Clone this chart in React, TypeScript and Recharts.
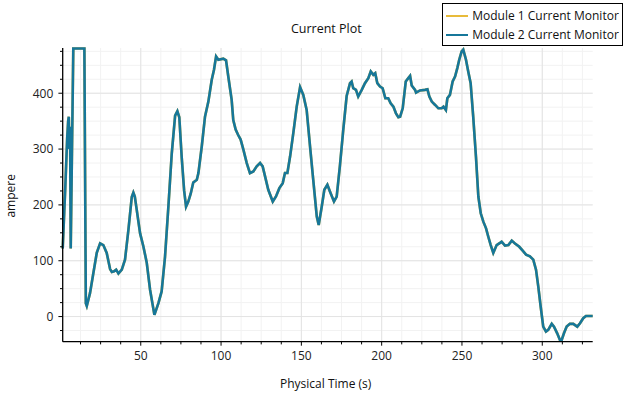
import { LineChart, Line, XAxis, YAxis, CartesianGrid } from "recharts"

const time = [
  1.4, 3, 4.2, 4.8, 5.2, 5.6, 6.0, 6.4, 8.0, 14.9, 15.8, 16.4, 18.4, 20.5, 22.6,
  24.7, 26.7, 28.8, 30.9, 32, 33.4, 34.7, 36.1, 38.2, 40.2, 42.3, 44.4, 45.4,
  46.3, 47.5, 49.6, 51.6, 53.7, 55.8, 58.5, 61, 63, 65.1, 67.2, 69.3, 71.4,
  72.8, 74, 75.5, 77, 78.2, 79.6, 81.1, 82.7, 84.9, 85.9, 88, 90, 92.1, 94.2,
  95.6, 96.9, 98.3, 101.4, 103.1, 104.5, 106.6, 107.6, 109.1, 110.5, 112.2,
  113.9, 116, 118, 120.1, 122.2, 124.3, 125.9, 127.4, 129.4, 132.2, 134.2,
  136.3, 138.4, 139.8, 141.3, 143, 145, 147.1, 149.2, 151.2, 153.3, 155.4,
  157.4, 159.6, 160.8, 162.7, 164.3, 166.2, 167.8, 170.3, 172, 174, 176.1,
  178.2, 180.3, 181.3, 182.3, 184, 185.4, 187.6, 189.6, 191.7, 193.2, 194.8,
  196, 197.3, 199, 200.6, 202.3, 204.1, 205.6, 207.3, 208.9, 210.4, 211.5,
  213.1, 215, 216.6, 217.7, 218.7, 220.8, 221.4, 223.9, 227, 228.5, 229.7,
  231.2, 233.3, 235.3, 237.4, 238.5, 240, 240.9, 242.5, 244.2, 245.7, 247.1,
  248.3, 249.8, 250.8, 252.5, 253.9, 255.4, 257, 258.7, 260.2, 261.7, 263.3,
  265, 266.4, 267.9, 269.5, 271.6, 273.7, 274.7, 276.8, 278.9, 281, 283, 285.7,
  287.8, 289.9, 292.3, 294.4, 296.1, 297.5, 299, 300.6, 302.3, 303.7, 305.9,
  307.3, 309.3, 311, 312.1, 313.5, 315.2, 317.2, 319.3, 321.8, 323.5, 325.5,
  327.2, 331.4,
]

const module2 = [
  122, 230, 320, 350, 358, 300, 340, 122, 480, 480, 24, 19, 42, 78, 114, 131,
  128, 114, 85, 80, 81, 84, 77, 84, 102, 155, 214, 222, 215, 191, 149, 126, 97,
  48, 3, 24, 45, 107, 197, 292, 360, 368, 357, 285, 226, 197, 206, 220, 240, 245,
  257, 305, 358, 385, 424, 442, 466, 460, 462, 459, 430, 388, 352, 335, 326, 317,
  299, 275, 257, 260, 269, 275, 269, 251, 227, 206, 215, 230, 239, 257, 257, 287,
  329, 376, 411, 397, 370, 305, 245, 179, 164, 197, 227, 236, 224, 206, 215, 270,
  335, 395, 418, 421, 409, 406, 394, 406, 418, 427, 439, 433, 436, 418, 412, 409,
  391, 391, 382, 376, 364, 357, 358, 373, 421, 427, 431, 414, 406, 401, 405, 406,
  407, 394, 385, 379, 373, 373, 376, 370, 391, 397, 421, 430, 445, 460, 475, 478,
  460, 439, 418, 358, 287, 215, 185, 170, 158, 143, 128, 114, 128, 132, 134, 127,
  128, 136, 131, 125, 118, 111, 108, 102, 84, 54, 18, -18, -27, -24, -13, -18,
  -30, -42, -42, -30, -18, -13, -13, -18, -12, -3, 1, 1,
]

// module 1 lies exactly underneath module 2 in the plot
const module1 = module2

const xTicks = [
  12.5, 25, 37.5, 50, 62.5, 75, 87.5, 100, 112.5, 125, 137.5, 150, 162.5, 175,
  187.5, 200, 212.5, 225, 237.5, 250, 262.5, 275, 287.5, 300, 312.5, 325,
]
const xMajor = [50, 100, 150, 200, 250, 300]
const yTicks = [
  -25, 0, 25, 50, 75, 100, 125, 150, 175, 200, 225, 250, 275, 300, 325, 350, 375,
  400, 425, 450, 475,
]
const yMajor = [0, 100, 200, 300, 400]

const series = [
  { key: "m1", name: "Module 1 Current Monitor", color: "#e8bb3a" },
  { key: "m2", name: "Module 2 Current Monitor", color: "#16779a" },
]

const data = time.map((t, i) => ({ t, m1: module1[i], m2: module2[i] }))

const FONT = "'Open Sans', sans-serif"

function YTick({ x, y, payload }: any) {
  const major = payload.value % 100 === 0
  return (
    <g>
      <line x1={x - (major ? 4.3 : 2.7)} x2={x} y1={y} y2={y} stroke="#000" strokeWidth={1} />
      {major && (
        <text x={x - 9.4} y={y + 4.3} textAnchor="end" fontSize={12} fontFamily={FONT} fill="#222">
          {payload.value}
        </text>
      )}
    </g>
  )
}

function XTick({ x, y, payload }: any) {
  const major = payload.value % 50 === 0
  return (
    <g>
      <line x1={x} x2={x} y1={y} y2={y + (major ? 4 : 2.7)} stroke="#000" strokeWidth={1} />
      {major && (
        <text x={x} y={y + 17.8} textAnchor="middle" fontSize={12} fontFamily={FONT} fill="#222">
          {payload.value}
        </text>
      )}
    </g>
  )
}

function LegendBox() {
  return (
    <div
      style={{
        position: "absolute",
        left: 441.7,
        top: 3.3,
        width: 181.5,
        height: 42.4,
        boxSizing: "border-box",
        border: "1px solid #000",
        background: "#fff",
        fontFamily: FONT,
        fontSize: 12,
        color: "#111",
        paddingTop: 2,
      }}
    >
      {series.map((s) => (
        <div key={s.key} style={{ display: "flex", alignItems: "center", height: 19 }}>
          <span style={{ display: "inline-block", width: 22, height: 2.5, background: s.color, marginLeft: 3, marginRight: 4.5 }} />
          <span>{s.name}</span>
        </div>
      ))}
    </div>
  )
}

export default function App() {
  return (
    <div style={{ position: "absolute", left: 0, top: 0, width: 624, height: 396, background: "#fff" }}>
      <LineChart width={624} height={396} data={data} margin={{ top: 48, right: 31.3, bottom: 24.3, left: 0 }}>
        <CartesianGrid stroke="#f2f2f2" strokeWidth={1} verticalValues={xTicks} horizontalValues={yTicks} />
        <CartesianGrid stroke="#e3e3e3" strokeWidth={1} verticalValues={xMajor} horizontalValues={yMajor} />
        <XAxis
          dataKey="t"
          type="number"
          domain={[1.4, 331.4]}
          ticks={xTicks}
          interval={0}
          height={30}
          tickSize={0}
          tickMargin={0}
          tick={XTick}
          axisLine={{ stroke: "#000", strokeWidth: 1.3 }}
        />
        <YAxis
          type="number"
          domain={[-45, 481]}
          ticks={yTicks}
          interval={0}
          width={62.7}
          tickSize={0}
          tickMargin={0}
          tick={YTick}
          axisLine={{ stroke: "#000", strokeWidth: 1.3 }}
        />
        {series.map((s) => (
          <Line
            key={s.key}
            name={s.name}
            dataKey={s.key}
            stroke={s.color}
            strokeWidth={2.6}
            dot={false}
            isAnimationActive={false}
          />
        ))}
      </LineChart>
      <LegendBox />
      <svg
        width={624}
        height={396}
        style={{ position: "absolute", left: 0, top: 0, pointerEvents: "none" }}
        fontFamily={FONT}
        fontSize={12}
        fill="#111"
      >
        <text x={326.3} y={33.3} textAnchor="middle" fontSize={12.5}>
          Current Plot
        </text>
        <text x={325.7} y={387.6} textAnchor="middle">
          Physical Time (s)
        </text>
        <text x={15.5} y={195.8} textAnchor="middle" transform="rotate(-90 15.5 195.8)">
          ampere
        </text>
      </svg>
    </div>
  )
}
